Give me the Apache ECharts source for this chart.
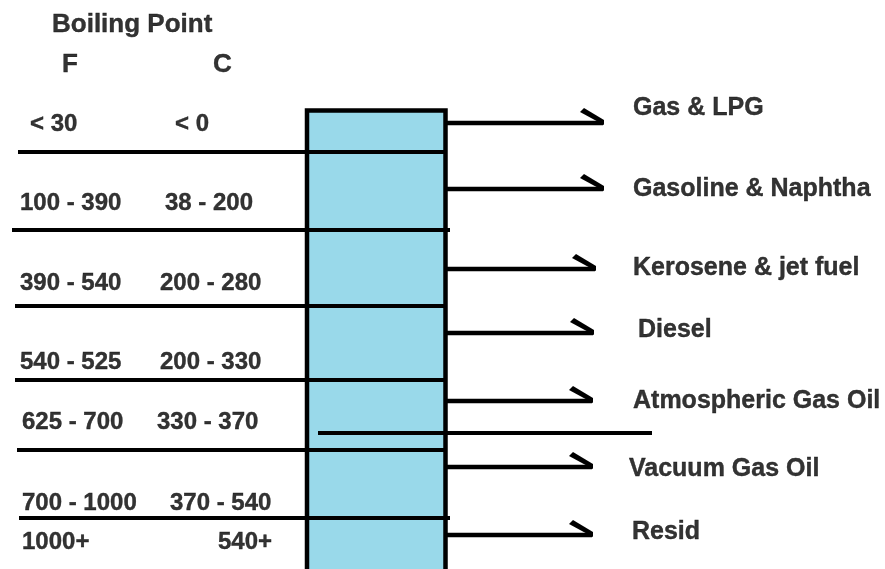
<!DOCTYPE html>
<html>
<head>
<meta charset="utf-8">
<script src="https://cdn.jsdelivr.net/npm/echarts@6/dist/echarts.min.js"></script>
<style>
    html, body { margin: 0; padding: 0; background: #fff; }
    #chart { width: 885px; height: 569px; }
</style>
</head>
<body>
<div id="chart"></div>
<script>
// fractions leaving the column
let fractions = ['Gas & LPG', 'Gasoline & Naphtha', 'Kerosene & jet fuel', 'Diesel', 'Atmospheric Gas Oil', 'Vacuum Gas Oil', 'Resid'];
// boiling point ranges
let rangeF = ['< 30', '100 - 390', '390 - 540', '540 - 525', '625 - 700', '700 - 1000', '1000+'];
let rangeC = ['< 0', '38 - 200', '200 - 280', '200 - 330', '330 - 370', '370 - 540', '540+'];
let headers = ['Boiling Point', 'F', 'C'];

// layout (pixel units of the hidden axes)
let rowY = [124, 203, 283, 362, 422, 503, 542];       // y of boiling point text
let fX = [30, 20, 20, 20, 22, 22, 22];
let cX = [175, 165, 160, 160, 157, 170, 218];
let outY = [123, 189, 269, 333, 401, 467, 535];       // y of product arrows
let outEnd = [603, 603, 595, 593, 592, 592, 592];
let labelX = [633, 633, 633, 638, 633, 629, 632];
let labelY = [108, 189, 268, 330, 401, 469, 532];
let sepY = [152, 230, 306, 380, 450, 518];
let sepX = [18, 12, 15, 15, 17, 19];
let sepEnd = [447, 450, 447, 447, 447, 450];
let column = [307, 110.5, 445.5, 575];
let innerLine = [318, 652, 433];

var myChart = echarts.init(document.getElementById('chart'));

function textSeries(data, size) {
    return {
        type: 'scatter',
        symbolSize: 0,
        silent: true,
        z: 10,
        data: data,
        label: {
            show: true,
            position: 'right',
            distance: 0,
            align: 'left',
            verticalAlign: 'middle',
            color: '#000',
            fontFamily: '"Liberation Sans", Arial, sans-serif',
            fontWeight: 'bold',
            fontSize: size,
            textBorderColor: '#000',
            textBorderWidth: 0.4,
            formatter: function (p) { return p.value[2]; }
        }
    };
}

let option = {
    animation: false,
    grid: { left: 0, right: 0, top: 0, bottom: 0 },
    xAxis: { type: 'value', min: 0, max: 885, show: false },
    yAxis: { type: 'value', min: 0, max: 569, inverse: true, show: false },
    series: [
        {
            // the column
            type: 'custom',
            silent: true,
            z: 1,
            data: [column],
            renderItem: function (params, api) {
                let p0 = api.coord([api.value(0), api.value(1)]);
                let p1 = api.coord([api.value(2), api.value(3)]);
                return {
                    type: 'rect',
                    shape: { x: p0[0], y: p0[1], width: p1[0] - p0[0], height: p1[1] - p0[1] },
                    style: { fill: '#99d9ea', stroke: '#000', lineWidth: 4.5 }
                };
            }
        },
        {
            // separators between the cuts
            type: 'custom',
            silent: true,
            z: 2,
            data: sepY.map((y, i) => [sepX[i], sepEnd[i], y]).concat([innerLine]),
            renderItem: function (params, api) {
                let p0 = api.coord([api.value(0), api.value(2)]);
                let p1 = api.coord([api.value(1), api.value(2)]);
                return {
                    type: 'line',
                    shape: { x1: p0[0], y1: p0[1], x2: p1[0], y2: p1[1] },
                    style: { stroke: '#000', lineWidth: 4 }
                };
            }
        },
        {
            // product arrows
            type: 'custom',
            silent: true,
            z: 2,
            data: outY.map((y, i) => [column[2], outEnd[i], y]),
            renderItem: function (params, api) {
                let p0 = api.coord([api.value(0), api.value(2)]);
                let p1 = api.coord([api.value(1), api.value(2)]);
                return {
                    type: 'group',
                    children: [
                        {
                            type: 'line',
                            shape: { x1: p0[0], y1: p0[1], x2: p1[0], y2: p1[1] },
                            style: { stroke: '#000', lineWidth: 4.5 }
                        },
                        {
                            type: 'polygon',
                            shape: { points: [[p1[0] - 23, p1[1] - 11], [p1[0] - 19, p1[1] - 15], [p1[0] + 1, p1[1] - 3], [p1[0] + 1, p1[1] + 2]] },
                            style: { fill: '#000' }
                        }
                    ]
                };
            }
        },
        textSeries([[52, 25, headers[0]], [62, 65, headers[1]], [213, 65, headers[2]]], 26),
        textSeries(rangeF.map((t, i) => [fX[i], rowY[i], t]), 24),
        textSeries(rangeC.map((t, i) => [cX[i], rowY[i], t]), 24),
        textSeries(fractions.map((t, i) => [labelX[i], labelY[i], t]), 25)
    ]
};

myChart.setOption(option);
</script>
</body>
</html>
